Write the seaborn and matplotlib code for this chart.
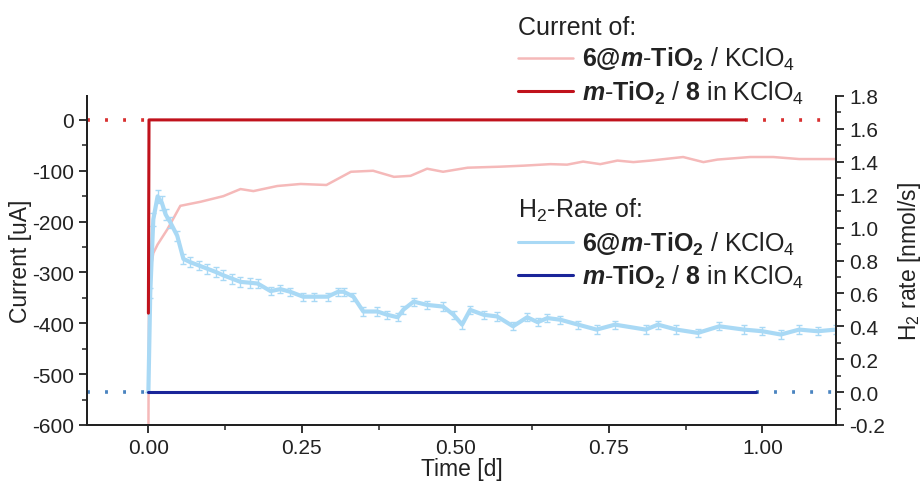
import matplotlib
matplotlib.use("Agg")
import matplotlib.pyplot as plt
import seaborn as sns
import pandas as pd
from matplotlib.lines import Line2D
from matplotlib.ticker import MultipleLocator

sns.set_theme(style="ticks")
plt.rcParams['font.family'] = ['Liberation Sans', 'DejaVu Sans']
plt.rcParams['mathtext.fontset'] = 'custom'
plt.rcParams['mathtext.rm'] = 'Liberation Sans'
plt.rcParams['mathtext.it'] = 'Liberation Sans:italic'
plt.rcParams['mathtext.bf'] = 'Liberation Sans:bold'
if 'mathtext.bfit' in plt.rcParams:
    plt.rcParams['mathtext.bfit'] = 'Liberation Sans:italic:bold'

# ---------------- data ----------------
# Current of 6@m-TiO2 / KClO4 (left axis, uA)
cur1_time = [0.0, 0.001, 0.004, 0.008, 0.015, 0.031, 0.052, 0.085, 0.122, 0.150, 0.171,
             0.210, 0.248, 0.290, 0.310, 0.330, 0.366, 0.400, 0.427, 0.454, 0.480,
             0.520, 0.573, 0.611, 0.655, 0.682, 0.708, 0.736, 0.764, 0.790, 0.818,
             0.871, 0.904, 0.927, 0.980, 1.018, 1.060, 1.120]
cur1_val = [-620, -330, -290, -262, -245, -215, -169, -161, -150, -136, -140,
            -130, -126, -128, -115, -102, -100, -112, -110, -96, -102,
            -94, -92, -90, -87, -88, -82, -87, -80, -83, -80,
            -73, -83, -78, -73, -73, -77, -77]

# Current of m-TiO2 / 8 in KClO4
cur2_time = [0.0, 0.001, 0.972]
cur2_val = [-380, 0, 0]
cur2_dot_left_time = [-0.1, 0.0]
cur2_dot_right_time = [0.972, 1.12]
cur2_dot_val = [0, 0]

# H2 rate of 6@m-TiO2 / KClO4 (right axis, nmol/s)
h2a_time = [0.0, 0.003, 0.008, 0.015, 0.022, 0.028, 0.036, 0.047, 0.057, 0.068, 0.082,
            0.096, 0.110, 0.122, 0.136, 0.150, 0.165, 0.178, 0.199, 0.215, 0.231,
            0.252, 0.269, 0.292, 0.309, 0.318, 0.334, 0.350, 0.373, 0.389, 0.406,
            0.415, 0.432, 0.454, 0.480, 0.497, 0.511, 0.524, 0.546, 0.568, 0.594,
            0.617, 0.634, 0.650, 0.671, 0.700, 0.730, 0.760, 0.810, 0.830, 0.860,
            0.895, 0.930, 0.970, 1.000, 1.030, 1.060, 1.090, 1.120]
h2a_val = [0.0, 0.60, 1.05, 1.19, 1.15, 1.08, 1.03, 0.95, 0.81, 0.79, 0.77,
           0.75, 0.73, 0.71, 0.69, 0.67, 0.665, 0.66, 0.614, 0.626, 0.61,
           0.58, 0.58, 0.58, 0.61, 0.61, 0.58, 0.49, 0.49, 0.47, 0.455,
           0.50, 0.55, 0.53, 0.52, 0.47, 0.41, 0.50, 0.47, 0.46, 0.40,
           0.455, 0.425, 0.45, 0.44, 0.41, 0.38, 0.41, 0.38, 0.41, 0.38,
           0.36, 0.40, 0.38, 0.37, 0.35, 0.38, 0.37, 0.38]
h2a_err = [0.0, 0.03, 0.04, 0.04, 0.04, 0.035, 0.035, 0.03, 0.03, 0.03, 0.03,
           0.03, 0.03, 0.03, 0.03, 0.03, 0.03, 0.03, 0.025, 0.025, 0.025,
           0.025, 0.025, 0.025, 0.025, 0.025, 0.025, 0.025, 0.025, 0.025, 0.025,
           0.025, 0.025, 0.025, 0.025, 0.025, 0.025, 0.025, 0.025, 0.025, 0.025,
           0.025, 0.025, 0.025, 0.025, 0.025, 0.025, 0.025, 0.025, 0.025, 0.025,
           0.025, 0.025, 0.025, 0.025, 0.025, 0.025, 0.025, 0.025]

# H2 rate of m-TiO2 / 8 in KClO4
h2b_time = [0.0, 0.99]
h2b_val = [0.0, 0.0]
h2b_dot_left_time = [-0.1, 0.0]
h2b_dot_right_time = [0.99, 1.12]
h2b_dot_val = [0.0, 0.0]

lab_a = r"$\mathbf{6@}\mathbfit{m}\text{-}\mathbf{TiO}_\mathbf{2}$ / KClO$_4$"
lab_b = r"$\mathbfit{m}\text{-}\mathbf{TiO}_\mathbf{2}$ / $\mathbf{8}$ in KClO$_4$"

c_pink = '#f5b9b9'
c_dred = '#c0121c'
c_red_dot = '#d83030'
c_lblue = '#a9d9f5'
c_navy = '#1a2599'
c_blue_dot = '#4a84c0'

# ---------------- figure ----------------
fig = plt.figure(figsize=(9.22, 4.89), dpi=100)
ax = fig.add_axes([87/922, 1-426/489, (836-87)/922, (426-97)/489])
ax2 = ax.twinx()

sns.lineplot(x=cur1_time, y=cur1_val, ax=ax, color=c_pink, lw=1.8, sort=False,
             estimator=None, zorder=2)
sns.lineplot(x=cur2_dot_left_time, y=cur2_dot_val, ax=ax, color=c_red_dot, lw=2.6,
             linestyle=(0, (0.8, 4.2)), sort=False, estimator=None)
sns.lineplot(x=cur2_dot_right_time, y=cur2_dot_val, ax=ax, color=c_red_dot, lw=2.6,
             linestyle=(0, (0.8, 4.2)), sort=False, estimator=None)

ax2.errorbar(h2a_time, h2a_val, yerr=h2a_err, color=c_lblue, lw=3.0, ecolor=c_lblue,
             elinewidth=1.0, capsize=2.0, capthick=1.0, zorder=2)
sns.lineplot(x=h2b_time, y=h2b_val, ax=ax2, color=c_navy, lw=2.2, sort=False,
             estimator=None, zorder=3)
sns.lineplot(x=h2b_dot_left_time, y=h2b_dot_val, ax=ax2, color=c_blue_dot, lw=2.6,
             linestyle=(0, (0.8, 4.2)), sort=False, estimator=None)
sns.lineplot(x=h2b_dot_right_time, y=h2b_dot_val, ax=ax2, color=c_blue_dot, lw=2.6,
             linestyle=(0, (0.8, 4.2)), sort=False, estimator=None)
# dark red current drawn on top
sns.lineplot(x=cur2_time, y=cur2_val, ax=ax2, color=c_dred, lw=2.2, sort=False,
             estimator=None, zorder=4, transform=ax.transData)

ax.set_xlim(-0.1, 1.12)
ax.set_ylim(-600, 47)
ax2.set_ylim(-0.2, 1.8)

ax.xaxis.set_major_locator(MultipleLocator(0.25))
ax.xaxis.set_minor_locator(MultipleLocator(0.125))
ax.yaxis.set_major_locator(MultipleLocator(100))
ax.yaxis.set_minor_locator(MultipleLocator(50))
ax2.yaxis.set_major_locator(MultipleLocator(0.2))
ax2.yaxis.set_minor_locator(MultipleLocator(0.1))
ax.set_xticks([0.0, 0.25, 0.5, 0.75, 1.0])
ax.set_xticklabels(['0.00', '0.25', '0.50', '0.75', '1.00'])
ax2.set_yticks([-0.2, 0.0, 0.2, 0.4, 0.6, 0.8, 1.0, 1.2, 1.4, 1.6, 1.8])
ax2.set_yticklabels(['-0.2', '0.0', '0.2', '0.4', '0.6', '0.8', '1.0', '1.2',
                     '1.4', '1.6', '1.8'])
ax.set_yticks([0, -100, -200, -300, -400, -500, -600])
ax.set_yticklabels(['0', '-100', '-200', '-300', '-400', '-500', '-600'])

for a in (ax, ax2):
    a.spines['top'].set_visible(False)
    for s in ('left', 'right', 'bottom'):
        a.spines[s].set_linewidth(1.4)
        a.spines[s].set_color('#222222')
    a.tick_params(which='major', direction='out', length=6, width=1.3,
                  labelsize=15, colors='#222222')
    a.tick_params(which='minor', direction='out', length=3.5, width=1.1,
                  colors='#222222')
ax.tick_params(axis='y', which='both', right=False)
ax2.tick_params(axis='y', which='both', left=False, right=True)

ax.set_xlabel('Time [d]', fontsize=16.5, labelpad=0, color='#222222')
ax.set_ylabel('Current [uA]', fontsize=16.5, labelpad=0, color='#222222')
ax2.set_ylabel('H$_2$ rate [nmol/s]', fontsize=16.5, labelpad=8, color='#222222')

h1 = [Line2D([], [], color=c_pink, lw=1.8), Line2D([], [], color=c_dred, lw=2.2)]
h2 = [Line2D([], [], color=c_lblue, lw=2.2), Line2D([], [], color=c_navy, lw=2.2)]

leg1 = ax2.legend(h1, [lab_a, lab_b], title='Current of:', loc='upper left',
                  bbox_to_anchor=(518/922, 1-16/489), bbox_transform=fig.transFigure,
                  frameon=False, fontsize=18, title_fontsize=18, handlelength=2.2,
                  handletextpad=0.35, labelspacing=0.25, borderpad=0,
                  borderaxespad=0, alignment='left')
ax2.add_artist(leg1)
leg2 = ax2.legend(h2, [lab_a, lab_b], title='H$_2$-Rate of:', loc='upper left',
                  bbox_to_anchor=(518/922, 1-197/489), bbox_transform=fig.transFigure,
                  frameon=False, fontsize=18, title_fontsize=18, handlelength=2.2,
                  handletextpad=0.35, labelspacing=0.25, borderpad=0,
                  borderaxespad=0, alignment='left')
for lg in (leg1, leg2):
    lg.get_title().set_color('#222222')
    for t in lg.get_texts():
        t.set_color('#222222')

fig.savefig('out.png', dpi=100)
